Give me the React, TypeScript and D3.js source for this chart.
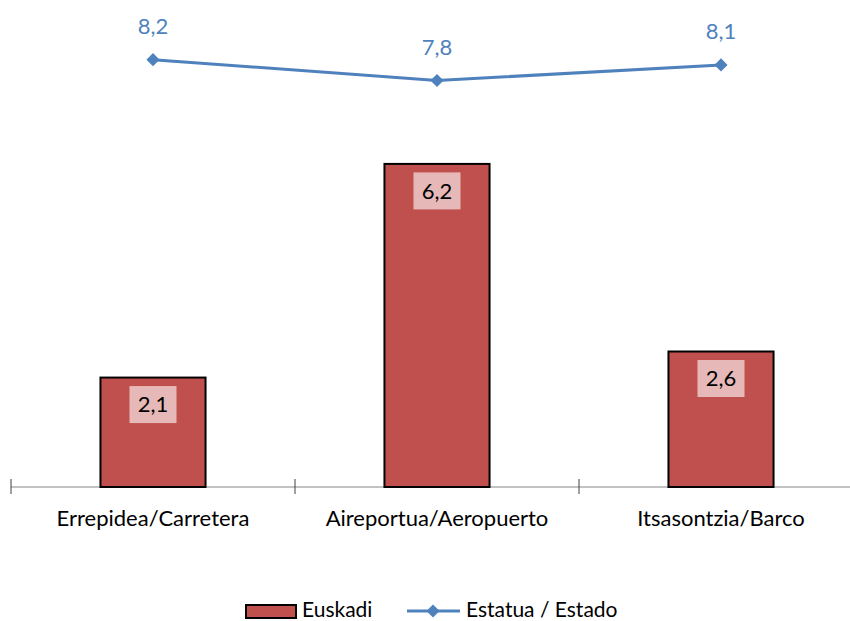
import { useEffect, useRef } from 'react';
import * as d3 from 'd3';

const categories = ['Errepidea/Carretera', 'Aireportua/Aeropuerto', 'Itsasontzia/Barco'];
const euskadi = [2.1, 6.2, 2.6];
const estado = [8.2, 7.8, 8.1];
const seriesNames = ['Euskadi', 'Estatua / Estado'];

const W = 850, H = 621;
const FONT = 'Lato, "Open Sans", sans-serif';
const BAR = '#C0504D', LINE = '#4F81BD';
const fmt = (v: number) => v.toFixed(1).replace('.', ',');

export default function App() {
  const ref = useRef<SVGSVGElement>(null);

  useEffect(() => {
    const svg = d3.select(ref.current);
    svg.selectAll('*').remove();

    const x = d3.scaleBand<string>().domain(categories).range([11, 863]).paddingInner(0).paddingOuter(0);
    const y = d3.scaleLinear().domain([0, 9]).range([487, 18]);
    const barW = x.bandwidth() * 0.37;
    const cx = (c: string) => x(c)! + x.bandwidth() / 2;

    // axis
    svg.append('line').attr('x1', 11).attr('x2', W).attr('y1', y(0)).attr('y2', y(0))
      .attr('stroke', '#868686').attr('stroke-width', 1);
    const ticks = [...categories.map((c) => x(c)!), 863];
    svg.selectAll('.tick').data(ticks).join('line')
      .attr('x1', (d) => d).attr('x2', (d) => d)
      .attr('y1', y(0) - 8).attr('y2', y(0) + 7)
      .attr('stroke', '#404040').attr('stroke-width', 1);

    svg.selectAll('.cat').data(categories).join('text')
      .attr('x', (d) => cx(d)).attr('y', 526)
      .attr('text-anchor', 'middle').attr('font-family', FONT).attr('font-size', 22)
      .attr('fill', '#000').text((d) => d);

    // bars
    svg.selectAll('.bar').data(euskadi).join('rect')
      .attr('x', (_, i) => cx(categories[i]) - barW / 2)
      .attr('y', (d) => y(d))
      .attr('width', barW)
      .attr('height', (d) => y(0) - y(d))
      .attr('fill', BAR).attr('stroke', '#000').attr('stroke-width', 2);

    const lbl = svg.selectAll('.blbl').data(euskadi).join('g')
      .attr('transform', (d, i) => `translate(${cx(categories[i])},${y(d) + 27})`);
    lbl.append('rect').attr('x', -23.5).attr('y', -18.5).attr('width', 47).attr('height', 37)
      .attr('fill', '#E6B9B8');
    lbl.append('text').attr('text-anchor', 'middle').attr('dy', '0.36em')
      .attr('font-family', FONT).attr('font-size', 22).attr('fill', '#000')
      .text((d) => fmt(d));

    // line
    const line = d3.line<number>().x((_, i) => cx(categories[i])).y((d) => y(d));
    svg.append('path').datum(estado).attr('d', line)
      .attr('fill', 'none').attr('stroke', LINE).attr('stroke-width', 3);
    const diamond = d3.symbol().type(d3.symbolDiamond2).size(110);
    svg.selectAll('.mk').data(estado).join('path')
      .attr('d', diamond)
      .attr('transform', (d, i) => `translate(${cx(categories[i])},${y(d)})`)
      .attr('fill', LINE);
    svg.selectAll('.llbl').data(estado).join('text')
      .attr('x', (_, i) => cx(categories[i])).attr('y', (d) => y(d) - 26)
      .attr('text-anchor', 'middle').attr('font-family', FONT).attr('font-size', 22)
      .attr('fill', LINE).text((d) => fmt(d));

    // legend
    const lg = svg.append('g');
    lg.append('rect').attr('x', 246).attr('y', 605).attr('width', 50).attr('height', 13)
      .attr('fill', BAR).attr('stroke', '#000').attr('stroke-width', 2);
    lg.append('text').attr('x', 302).attr('y', 617).attr('font-family', FONT).attr('font-size', 21)
      .text(seriesNames[0]);
    lg.append('line').attr('x1', 407).attr('x2', 460).attr('y1', 611).attr('y2', 611)
      .attr('stroke', LINE).attr('stroke-width', 3);
    lg.append('path').attr('d', diamond).attr('transform', 'translate(433,611)').attr('fill', LINE);
    lg.append('text').attr('x', 466).attr('y', 617).attr('font-family', FONT).attr('font-size', 21)
      .text(seriesNames[1]);
  }, []);

  return (
    <svg ref={ref} width={W} height={H}
      style={{ position: 'absolute', left: 0, top: 0, background: '#fff' }} />
  );
}
